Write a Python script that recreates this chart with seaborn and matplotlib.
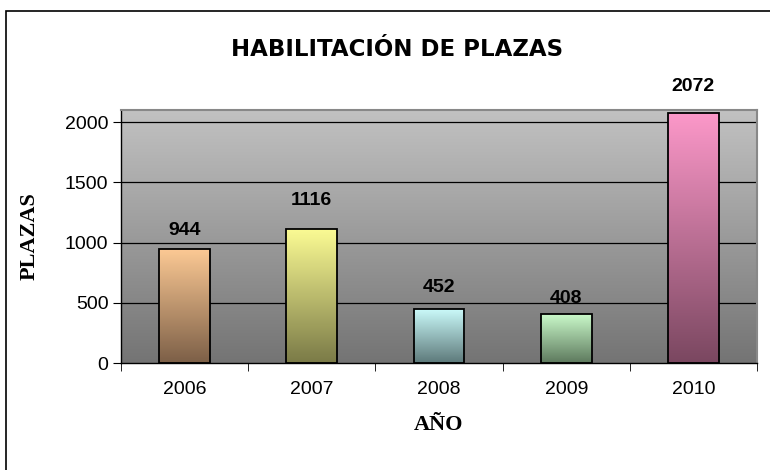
import numpy as np
import pandas as pd
import seaborn as sns
import matplotlib.pyplot as plt
from matplotlib.colors import LinearSegmentedColormap
from matplotlib.patches import Rectangle

years = ['2006', '2007', '2008', '2009', '2010']
plazas = [944, 1116, 452, 408, 2072]
top_colors = ['#fcc994', '#fcfc94', '#ccfcfc', '#ccfccc', '#fc98c9']
bottom_colors = ['#7c5f47', '#7a7a47', '#5d797a', '#5d795d', '#7a4760']
label_gaps_px = [14, 24, 17, 11, 22]

sns.set_style('white')
plt.rcParams['font.family'] = ['Liberation Sans', 'DejaVu Sans']
plt.rcParams['text.color'] = 'black'
plt.rcParams['axes.labelcolor'] = 'black'
plt.rcParams['xtick.color'] = 'black'
plt.rcParams['ytick.color'] = 'black'

df = pd.DataFrame({'year': years, 'plazas': plazas})

fig = plt.figure(figsize=(7.7, 4.7), dpi=100)
ax = fig.add_axes([121 / 770, 1 - 363 / 470, 636 / 770, 253 / 470])

# outer chart border
fig.patches.append(Rectangle((6 / 770, -0.02), 1.0, 1 - 11 / 470 + 0.02, transform=fig.transFigure,
                             fill=False, edgecolor='black', linewidth=1.2))

sns.barplot(data=df, x='year', y='plazas', ax=ax, width=0.4, color='white',
            edgecolor='black', linewidth=1.3, zorder=3)

# plot area gradient
bg = LinearSegmentedColormap.from_list('bg', ['#747474', '#c2c2c2'])
grad = np.linspace(0, 1, 256).reshape(-1, 1)
ax.imshow(grad, aspect='auto', cmap=bg, origin='lower', extent=[-0.5, 4.5, 0, 2100], zorder=0)

# gradient fill for each bar + value labels
for patch, c_top, c_bot, gap, val in zip(ax.patches, top_colors, bottom_colors, label_gaps_px, plazas):
    x0, w, h = patch.get_x(), patch.get_width(), patch.get_height()
    cm = LinearSegmentedColormap.from_list('b', [c_bot, c_top])
    im = ax.imshow(grad, aspect='auto', cmap=cm, origin='lower', extent=[x0, x0 + w, 0, h], zorder=2.5)
    im.set_clip_path(patch)
    patch.set_facecolor('none')
    ax.annotate(str(val), (x0 + w / 2, h), xytext=(0, gap * 0.72), textcoords='offset points',
                ha='center', va='baseline', fontsize=14, fontweight='bold', annotation_clip=False)

ax.set_ylim(0, 2100)
ax.set_xlim(-0.5, 4.5)
ax.set_yticks([0, 500, 1000, 1500, 2000])
for y in [500, 1000, 1500, 2000]:
    ax.axhline(y, color='black', linewidth=0.9, zorder=1)

ax.set_xticks(range(5))
ax.set_xticklabels(years)
ax.set_xticks(np.arange(-0.5, 5, 1), minor=True)
ax.tick_params(axis='x', which='major', length=0, labelsize=14, pad=13)
ax.tick_params(axis='x', which='minor', length=6, direction='out', color='black', bottom=True)
ax.tick_params(axis='y', length=6, direction='out', color='black', labelsize=14, left=True, pad=3)

for s in ['left', 'bottom']:
    ax.spines[s].set_color('black')
    ax.spines[s].set_linewidth(1.0)
for s in ['top', 'right']:
    ax.spines[s].set_color('#888888')
    ax.spines[s].set_linewidth(1.5)

ax.set_xlabel('AÑO', fontsize=16, fontweight='bold', family='Liberation Serif', labelpad=12)
ax.set_ylabel('PLAZAS', fontsize=16, fontweight='bold', family='Liberation Serif', labelpad=18)
fig.text(397 / 770, 1 - 50 / 470, 'HABILITACIÓN DE PLAZAS', ha='center', va='center',
         fontsize=16.5, fontweight='bold', family='DejaVu Sans')

fig.savefig('out.png', dpi=100)
